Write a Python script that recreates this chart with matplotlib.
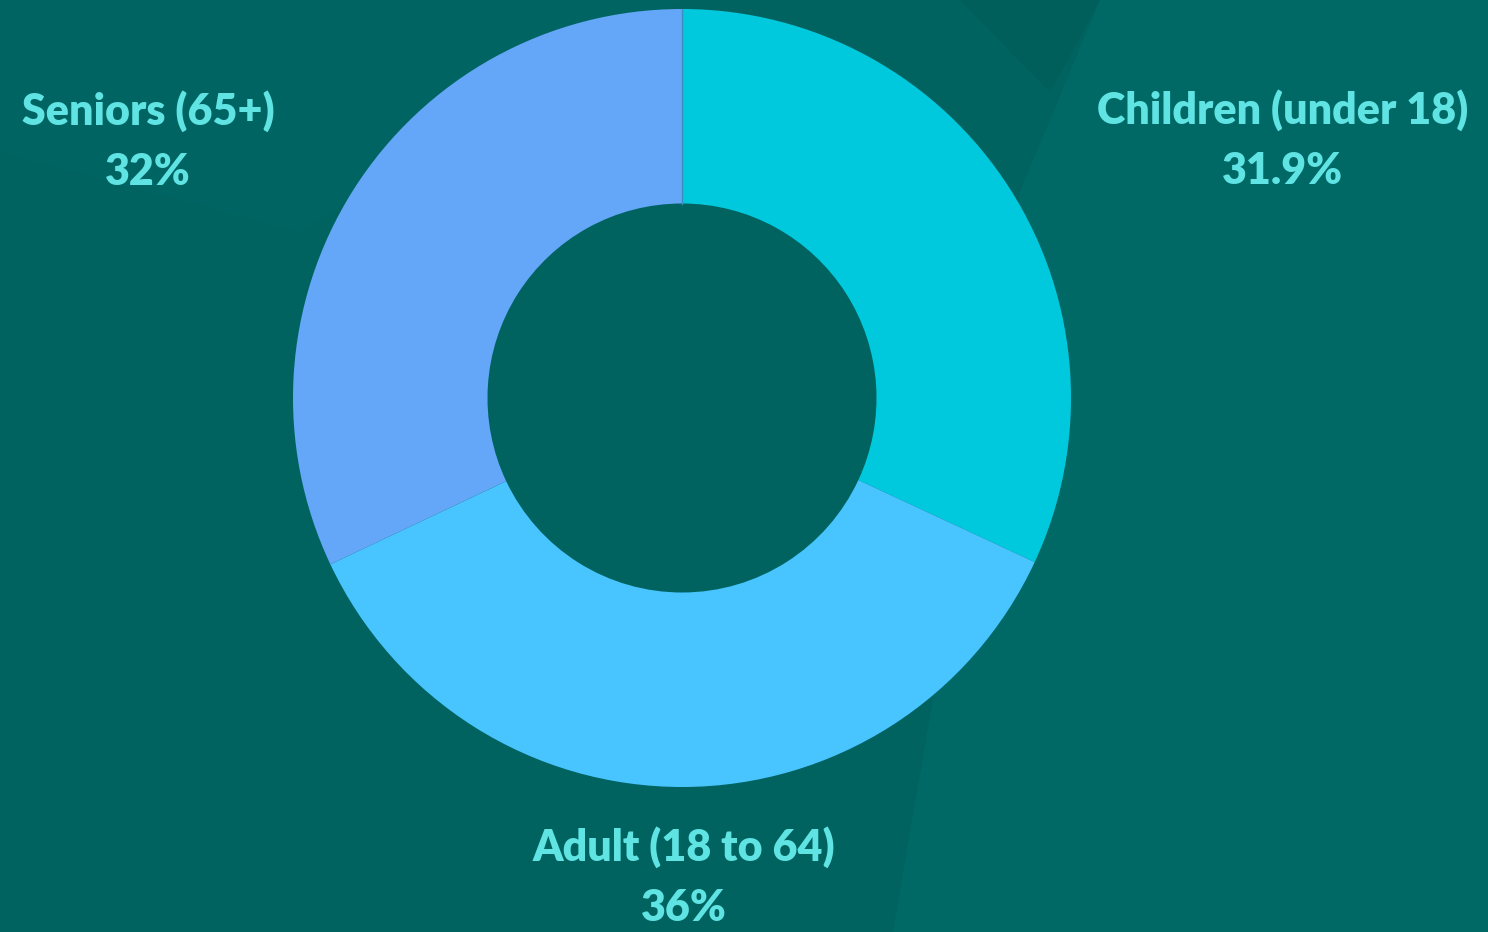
import matplotlib.pyplot as plt
from matplotlib.patches import Polygon

labels = ['Children (under 18)', 'Adult (18 to 64)', 'Seniors (65+)']
shares = [31.9, 36, 32]
pct_text = ['31.9%', '36%', '32%']
colors = ['#00C9DD', '#48C4FF', '#64A6F8']

# label positions in pixel coords (x, y from top)
label_pos = [(1283, 140), (684, 877), (148, 141)]

W, H = 1488, 932
bg = '#006360'
txt_color = '#5FE3E3'

fig = plt.figure(figsize=(W / 100, H / 100), dpi=100, facecolor=bg)
ax = fig.add_axes([0, 0, 1, 1])
ax.set_facecolor(bg)

# subtle background facets
ax.add_patch(Polygon([(893, 0), (1020, 740), (1100, 932), (W, 932), (W, 0)],
                     closed=True, facecolor='#006966', edgecolor='none', zorder=0))
ax.add_patch(Polygon([(960, 932), (1050, 840), (1100, 932)],
                     closed=True, facecolor='#005E5B', edgecolor='none', zorder=0))
ax.add_patch(Polygon([(0, 932), (0, 780), (300, 700), (680, 932)],
                     closed=True, facecolor='#006562', edgecolor='none', zorder=0))

cx, cy, r = 682, H - 398, 389
ax.pie(shares, colors=colors, startangle=90, counterclock=False,
       radius=r, center=(cx, cy), frame=True,
       wedgeprops=dict(width=r * 0.5, edgecolor='none', linewidth=0))
ax.plot([cx, cx], [cy + r * 0.5, cy + r], color='#3A8FC0', lw=1, zorder=3)

for lab, pct, (x, y) in zip(labels, pct_text, label_pos):
    ax.text(x, H - y, lab + '\n' + pct, ha='center', va='center',
            fontsize=31, fontweight='heavy', family=['Lato', 'DejaVu Sans'],
            color=txt_color, linespacing=1.6)

ax.set_xlim(0, W)
ax.set_ylim(0, H)
ax.set_aspect('auto')
ax.axis('off')

fig.savefig('out.png', dpi=100, facecolor=bg)
